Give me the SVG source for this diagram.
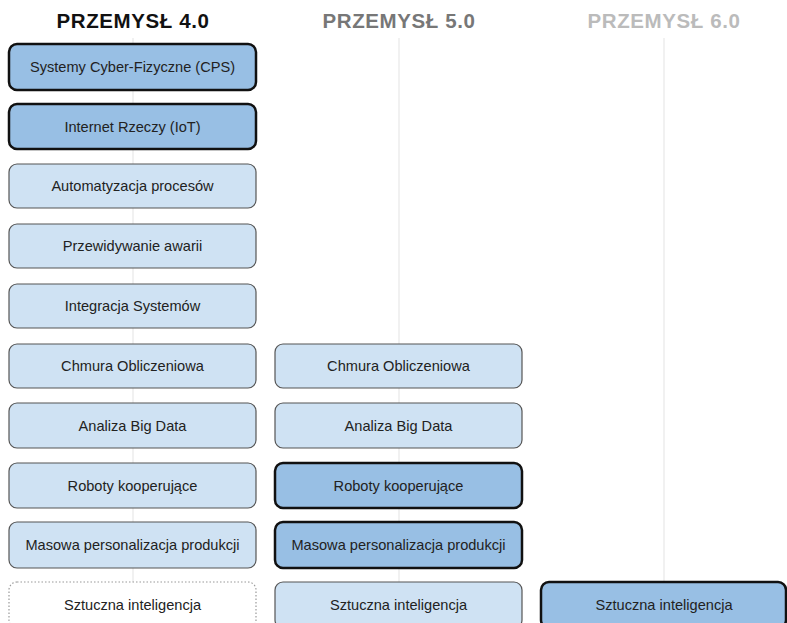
<svg xmlns="http://www.w3.org/2000/svg" width="787" height="623" viewBox="0 0 787 623">
<style>
.h{font-family:"Liberation Sans",Arial,sans-serif;font-size:20.5px;font-weight:bold;text-anchor:middle;letter-spacing:0.6px}
.t{font-family:"Liberation Sans",Arial,sans-serif;font-size:14.6px;fill:#222;text-anchor:middle;dominant-baseline:central}
.lt{fill:#cfe2f3;stroke:#555;stroke-width:1.2}
.dk{fill:#98bfe4;stroke:#111;stroke-width:2.5}
.dt{fill:#fff;stroke:#999;stroke-width:1.2;stroke-dasharray:1.5 2}
.g{stroke:#ececec;stroke-width:1.5}
</style>
<rect width="787" height="623" fill="#fff"/>
<g id="connectors">
<line class="g" x1="133" y1="38" x2="133" y2="623"/>
<line class="g" x1="399" y1="38" x2="399" y2="623"/>
<line class="g" x1="664" y1="38" x2="664" y2="623"/>
</g>
<g id="headers">
<text class="h" x="133" y="27.5" fill="#111">PRZEMYSŁ 4.0</text>
<text class="h" x="399" y="27.5" fill="#777">PRZEMYSŁ 5.0</text>
<text class="h" x="664" y="27.5" fill="#bbb">PRZEMYSŁ 6.0</text>
</g>
<g id="c1n1"><rect class="dk" x="9" y="44" width="247" height="46" rx="8"/><text class="t" x="132.5" y="67">Systemy Cyber-Fizyczne (CPS)</text></g>
<g id="c1n2"><rect class="dk" x="9" y="104" width="247" height="45" rx="8"/><text class="t" x="132.5" y="126.5">Internet Rzeczy (IoT)</text></g>
<g id="c1n3"><rect class="lt" x="9" y="164" width="247" height="44" rx="8"/><text class="t" x="132.5" y="186">Automatyzacja procesów</text></g>
<g id="c1n4"><rect class="lt" x="9" y="224" width="247" height="44" rx="8"/><text class="t" x="132.5" y="246">Przewidywanie awarii</text></g>
<g id="c1n5"><rect class="lt" x="9" y="284" width="247" height="44" rx="8"/><text class="t" x="132.5" y="306">Integracja Systemów</text></g>
<g id="c1n6"><rect class="lt" x="9" y="344" width="247" height="44" rx="8"/><text class="t" x="132.5" y="366">Chmura Obliczeniowa</text></g>
<g id="c1n7"><rect class="lt" x="9" y="403" width="247" height="45" rx="8"/><text class="t" x="132.5" y="425.5">Analiza Big Data</text></g>
<g id="c1n8"><rect class="lt" x="9" y="463" width="247" height="45" rx="8"/><text class="t" x="132.5" y="485.5">Roboty kooperujące</text></g>
<g id="c1n9"><rect class="lt" x="9" y="522" width="247" height="46" rx="8"/><text class="t" x="132.5" y="545">Masowa personalizacja produkcji</text></g>
<g id="c1n10"><rect class="dt" x="9" y="582" width="247" height="46" rx="8"/><text class="t" x="132.5" y="605">Sztuczna inteligencja</text></g>
<g id="c2n6"><rect class="lt" x="275" y="344" width="247" height="44" rx="8"/><text class="t" x="398.5" y="366">Chmura Obliczeniowa</text></g>
<g id="c2n7"><rect class="lt" x="275" y="403" width="247" height="45" rx="8"/><text class="t" x="398.5" y="425.5">Analiza Big Data</text></g>
<g id="c2n8"><rect class="dk" x="275" y="463" width="247" height="45" rx="8"/><text class="t" x="398.5" y="485.5">Roboty kooperujące</text></g>
<g id="c2n9"><rect class="dk" x="275" y="522" width="247" height="46" rx="8"/><text class="t" x="398.5" y="545">Masowa personalizacja produkcji</text></g>
<g id="c2n10"><rect class="lt" x="275" y="582" width="247" height="46" rx="8"/><text class="t" x="398.5" y="605">Sztuczna inteligencja</text></g>
<g id="c3n10"><rect class="dk" x="541" y="582" width="245" height="46" rx="8"/><text class="t" x="664" y="605">Sztuczna inteligencja</text></g>
</svg>
